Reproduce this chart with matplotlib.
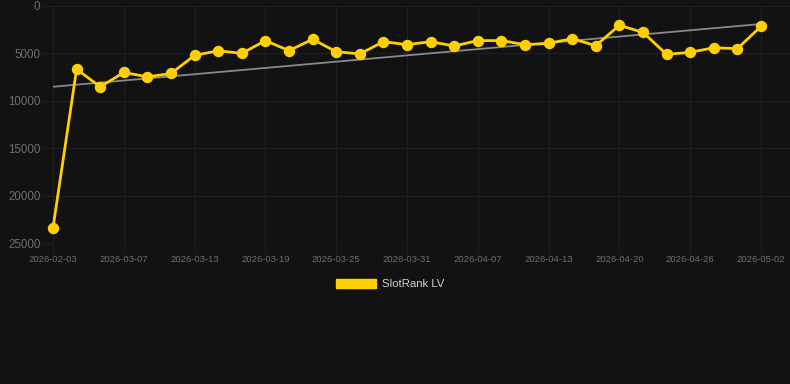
"""
SlotRank LV 排名走势图（y 轴反向，越靠上排名越好）。

运行：
    python plot.py
生成：
    out.png
"""

import numpy as np
from matplotlib import pyplot as plt
from matplotlib.patches import Patch

plt.rcParams["font.family"] = ["Liberation Sans", "DejaVu Sans"]

# 数据：日期（类目轴）与排名
dates = [
    "2026-02-03", "2026-03-03", "2026-03-05", "2026-03-07", "2026-03-09", "2026-03-11",
    "2026-03-13", "2026-03-15", "2026-03-17", "2026-03-19", "2026-03-21", "2026-03-23",
    "2026-03-25", "2026-03-27", "2026-03-29", "2026-03-31", "2026-04-02", "2026-04-05",
    "2026-04-07", "2026-04-09", "2026-04-11", "2026-04-13", "2026-04-15", "2026-04-17",
    "2026-04-20", "2026-04-22", "2026-04-24", "2026-04-26", "2026-04-28", "2026-04-30",
    "2026-05-02",
]
rank = [
    23400, 6660, 8530, 7010, 7470, 7120,
    5210, 4720, 5000, 3650, 4710, 3510,
    4820, 5060, 3760, 4080, 3760, 4220,
    3650, 3650, 4080, 3940, 3450, 4180,
    2040, 2780, 5100, 4890, 4400, 4500,
    2150,
]
y_ticks = [0, 5000, 10000, 15000, 20000, 25000]
series_name = "SlotRank LV"

BG = "#121212"
GRID = "#1f1f1f"
TICK_TEXT = "#6e6e6e"
YELLOW = "#ffd000"
TREND = "#8a8a8a"


def main() -> None:
    fig = plt.figure(figsize=(7.9, 3.84), dpi=100, facecolor=BG)
    ax = fig.add_axes([53 / 790, 1 - 243 / 384, 737 / 790, 237 / 384], facecolor=BG)

    x = np.arange(len(rank))
    y = np.array(rank, dtype=float)

    # 线性趋势线
    k, b = np.polyfit(x, y, 1)
    ax.plot(x, k * x + b, color=TREND, lw=1.3, zorder=2)

    ax.plot(x, y, color=YELLOW, lw=2.0, marker="o", ms=7.2, zorder=3, clip_on=False)

    ax.set_xlim(0, 31.23)
    ax.set_ylim(25000, 0)
    ax.set_xticks(x[::3])
    ax.set_xticklabels(dates[::3])
    ax.set_yticks(y_ticks)
    ax.set_yticklabels([str(v) for v in y_ticks])

    ax.grid(True, color=GRID, lw=0.8)
    for s in ax.spines.values():
        s.set_visible(False)
    ax.tick_params(axis="x", length=7, width=0.8, color=GRID, labelcolor=TICK_TEXT,
                   labelsize=6.8, pad=2)
    ax.tick_params(axis="y", length=8, width=0.8, color=GRID, labelcolor=TICK_TEXT,
                   labelsize=8.3, pad=1)

    handle = Patch(facecolor=YELLOW, edgecolor=YELLOW)
    fig.legend([handle], [series_name], loc="center", bbox_to_anchor=(390 / 790, 1 - 284 / 384),
               frameon=False, fontsize=8.2, labelcolor="#d0d0d0",
               handlelength=3.5, handleheight=0.9, handletextpad=0.55)

    fig.savefig("out.png", dpi=100, facecolor=BG)
    plt.close(fig)


if __name__ == "__main__":
    main()
